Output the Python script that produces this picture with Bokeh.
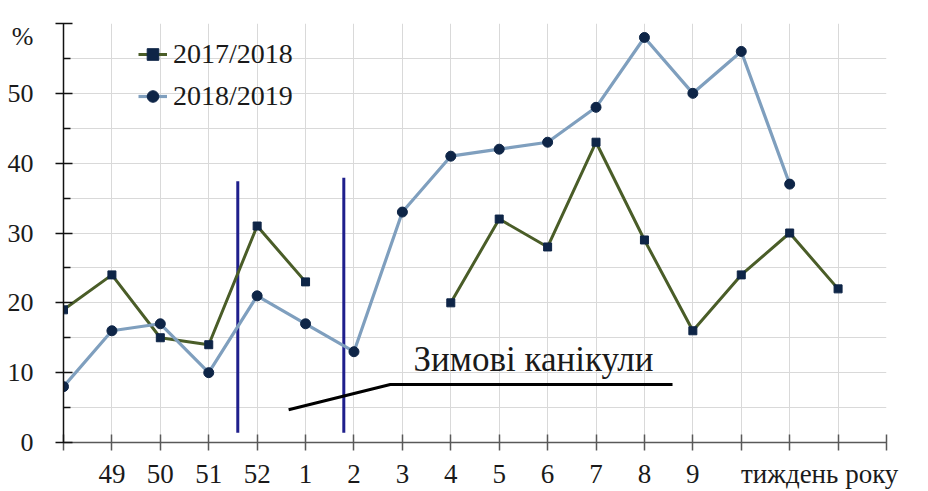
from bokeh.plotting import figure
from bokeh.models import Range1d, FixedTicker, Legend, LegendItem, Label, ColumnDataSource, LinearAxis
from bokeh.embed import file_html
from bokeh.resources import INLINE

# ---------------- data ----------------
weeks = ["48", "49", "50", "51", "52", "1", "2", "3", "4", "5", "6", "7", "8", "9", "10", "11", "12"]
shown_week_labels = ["", "49", "50", "51", "52", "1", "2", "3", "4", "5", "6", "7", "8", "9"]
nan = float("nan")
season_2017_2018 = [19, 24, 15, 14, 31, 23, nan, nan, 20, 32, 28, 43, 29, 16, 24, 30, 22]
season_2018_2019 = [8, 16, 17, 10, 21, 17, 13, 33, 41, 42, 43, 48, 58, 50, 56, 37, nan]
y_tick_values = [0, 10, 20, 30, 40, 50]
y_tick_labels = ["0", "10", "20", "30", "40", "50"]
x_axis_title = "тиждень року"
y_axis_title = "%"
holiday_text = "Зимові канікули"
legend_labels = ["2017/2018", "2018/2019"]

# ---------------- annotation placement (data units) ----------------
holiday_bounds_x = [3.60, 5.79]
holiday_bounds_top = [37.4, 37.9]
holiday_bounds_bottom = 1.4
pointer_x = [4.65, 6.75, 12.58]
pointer_y = [4.7, 8.3, 8.3]
holiday_text_pos = (7.23, 11.9)
x_title_pos = 15.62
y_title_pos = 58.2

FONT = "Liberation Serif"
TXT = "#1a1a1a"

idx = list(range(len(weeks)))
src = ColumnDataSource(dict(x=idx, a=season_2017_2018, b=season_2018_2019))

p = figure(width=912, height=491, output_backend="svg", toolbar_location=None,
           x_range=Range1d(0, 17), y_range=Range1d(0, 60),
           min_border_left=63, min_border_right=26, min_border_top=23, min_border_bottom=48)
p.outline_line_color = None
p.background_fill_color = "white"

# grid
p.xgrid.ticker = FixedTicker(ticks=list(range(18)))
p.ygrid.ticker = FixedTicker(ticks=list(range(0, 61, 5)))
for g in (p.xgrid, p.ygrid):
    g.grid_line_color = "#d9d9d9"
    g.grid_line_width = 1

# x axis: ticks only
xa = p.xaxis[0]
xa.ticker = FixedTicker(ticks=list(range(18)))
xa.major_label_overrides = {i: "" for i in range(18)}
xa.major_label_text_font_size = "0px"
xa.major_label_standoff = 0
xa.major_tick_in = 8
xa.major_tick_out = 8
xa.minor_tick_line_color = None
xa.axis_line_color = "#595959"
xa.major_tick_line_color = "#595959"
xa.axis_line_width = 1.5
xa.major_tick_line_width = 1.5

# x axis: labels only
x_lab_ticks = list(range(1, len(shown_week_labels))) + [x_title_pos]
x_lab_over = {i: shown_week_labels[i] for i in range(1, len(shown_week_labels))}
x_lab_over[x_title_pos] = x_axis_title
xb = LinearAxis(ticker=FixedTicker(ticks=x_lab_ticks), major_label_overrides=x_lab_over,
                axis_line_color=None, major_tick_line_color=None, minor_tick_line_color=None,
                major_tick_in=0, major_tick_out=0, minor_tick_in=0, minor_tick_out=0,
                major_label_text_font=FONT, major_label_text_font_size="27px",
                major_label_text_color=TXT, major_label_standoff=8)
p.add_layout(xb, "below")

# y axis: ticks only
ya = p.yaxis[0]
ya.ticker = FixedTicker(ticks=list(range(0, 61, 10)), minor_ticks=list(range(5, 60, 10)))
ya.major_label_overrides = {t: "" for t in range(0, 61, 10)}
ya.major_label_text_font_size = "0px"
ya.major_label_standoff = 0
ya.major_tick_in = 9
ya.major_tick_out = 8
ya.minor_tick_in = 7
ya.minor_tick_out = 0
ya.axis_line_color = "#111111"
ya.major_tick_line_color = "#111111"
ya.minor_tick_line_color = "#111111"
ya.axis_line_width = 1.5
ya.major_tick_line_width = 1.5
ya.minor_tick_line_width = 1.5

# y axis: labels only
y_lab_over = {v: s for v, s in zip(y_tick_values, y_tick_labels)}
y_lab_over[y_title_pos] = y_axis_title
yb = LinearAxis(ticker=FixedTicker(ticks=y_tick_values + [y_title_pos]), major_label_overrides=y_lab_over,
                axis_line_color=None, major_tick_line_color=None, minor_tick_line_color=None,
                major_tick_in=0, major_tick_out=0, minor_tick_in=0, minor_tick_out=0,
                major_label_text_font=FONT, major_label_text_font_size="26px",
                major_label_text_color=TXT, major_label_standoff=22)
p.add_layout(yb, "left")

# holiday vertical lines
for xv, top in zip(holiday_bounds_x, holiday_bounds_top):
    p.line([xv, xv], [holiday_bounds_bottom, top], line_color="#1f1f8c", line_width=3)

# pointer line
p.line(pointer_x, pointer_y, line_color="#000000", line_width=3)

# series
l1 = p.line("x", "a", source=src, line_color="#4a5d28", line_width=3)
s1 = p.scatter("x", "a", source=src, marker="square", size=8, fill_color="#0e2547", line_color="#0e2547")
l2 = p.line("x", "b", source=src, line_color="#7f9fbe", line_width=3.2)
s2 = p.scatter("x", "b", source=src, marker="circle", size=10, fill_color="#0e2547", line_color="#0e2547")

legend = Legend(items=[LegendItem(label=legend_labels[0], renderers=[l1, s1]),
                       LegendItem(label=legend_labels[1], renderers=[l2, s2])],
                location=(75, 325), padding=0, margin=0, spacing=0,
                glyph_width=29, glyph_height=42, label_height=42, label_standoff=6,
                background_fill_alpha=0, border_line_alpha=0,
                label_text_font=FONT, label_text_font_size="28px", label_text_color=TXT)
p.add_layout(legend)

p.add_layout(Label(x=holiday_text_pos[0], y=holiday_text_pos[1], text=holiday_text, text_font=FONT,
                   text_font_size="35px", text_color=TXT, text_align="left", text_baseline="alphabetic"))

open("out.html", "w").write(file_html(p, INLINE))
